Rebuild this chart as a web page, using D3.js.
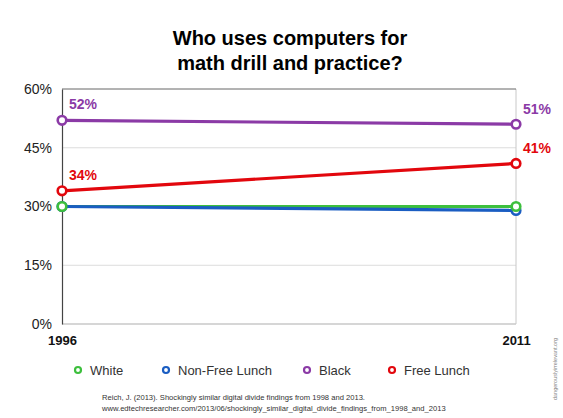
<!DOCTYPE html>
<html>
<head>
<meta charset="UTF-8">
<script src="https://d3js.org/d3.v7.min.js"></script>
<style>
  body { margin: 0; background: #fff; font-family: "Liberation Sans", Arial, sans-serif; }
</style>
</head>
<body>
<div id="chart"></div>
<script>
// data
var years = ["1996", "2011"];
var seriesNames = ["White", "Non-Free Lunch", "Black", "Free Lunch"];
var seriesColors = ["#3dbf3d", "#1a5dc2", "#8b3aa6", "#e2070d"];
var white = [30, 30];
var nonFreeLunch = [30, 29];
var black = [52, 51];
var freeLunch = [34, 41];
var yTicks = [0, 15, 30, 45, 60];
var labelled = [2, 3]; // which series get value labels

var allSeries = [white, nonFreeLunch, black, freeLunch];

var width = 563, height = 418;
var margin = { top: 89, left: 62, right: 47, bottom: 94 };

var svg = d3.select("#chart").append("svg")
    .attr("width", width)
    .attr("height", height);

var x = d3.scalePoint().domain(years).range([margin.left, width - margin.right]);
var y = d3.scaleLinear().domain([0, 60]).range([height - margin.bottom, margin.top]);

// title
svg.append("text")
    .attr("x", 290).attr("y", 45)
    .attr("text-anchor", "middle")
    .style("font-size", "20px").style("font-weight", "bold")
    .selectAll("tspan")
    .data(["Who uses computers for", "math drill and practice?"])
    .enter().append("tspan")
    .attr("x", 290)
    .attr("dy", function(d, i) { return i ? 25 : 0; })
    .text(function(d) { return d; });

// grid
svg.selectAll(".grid")
    .data([15, 30, 45])
    .enter().append("line")
    .attr("x1", margin.left).attr("x2", width - margin.right)
    .attr("y1", function(d) { return y(d); }).attr("y2", function(d) { return y(d); })
    .attr("stroke", "#dcdcdc").attr("stroke-width", 1);

// frame
svg.append("line")
    .attr("x1", width - margin.right).attr("x2", width - margin.right)
    .attr("y1", y(60)).attr("y2", y(0))
    .attr("stroke", "#c8c8c8");
svg.append("line")
    .attr("x1", margin.left).attr("x2", width - margin.right)
    .attr("y1", y(0)).attr("y2", y(0))
    .attr("stroke", "#c8c8c8").attr("stroke-width", 1.5);
svg.append("line")
    .attr("x1", margin.left).attr("x2", width - margin.right)
    .attr("y1", y(60)).attr("y2", y(60))
    .attr("stroke", "#666");

// y axis
var yAxis = svg.append("g")
    .attr("transform", "translate(" + margin.left + ",0)")
    .call(d3.axisLeft(y).tickValues(yTicks).tickSize(0).tickPadding(10)
        .tickFormat(function(d) { return d + "%"; }));
yAxis.select(".domain").attr("stroke", "#444").attr("stroke-width", 1.2);
yAxis.selectAll("text")
    .style("font-family", "Liberation Sans, Arial, sans-serif")
    .style("font-size", "14px").attr("fill", "#222");

// x axis
var xAxis = svg.append("g")
    .attr("transform", "translate(0," + y(0) + ")")
    .call(d3.axisBottom(x).tickSize(0).tickPadding(12));
xAxis.select(".domain").remove();
xAxis.selectAll("text")
    .style("font-family", "Liberation Sans, Arial, sans-serif")
    .style("font-size", "13px").style("font-weight", "bold").attr("fill", "#111");

// lines
var line = d3.line()
    .x(function(d, i) { return x(years[i]); })
    .y(function(d) { return y(d); });

allSeries.forEach(function(s, k) {
    svg.append("path")
        .datum(s)
        .attr("d", line)
        .attr("fill", "none")
        .attr("stroke", seriesColors[k])
        .attr("stroke-width", 3.2);
});
[1, 0, 2, 3].forEach(function(k) {
    svg.selectAll(".m" + k)
        .data(allSeries[k])
        .enter().append("circle")
        .attr("cx", function(d, i) { return x(years[i]); })
        .attr("cy", function(d) { return y(d); })
        .attr("r", 4.3)
        .attr("fill", "#fff")
        .attr("stroke", seriesColors[k])
        .attr("stroke-width", 2.6);
});

// value labels
labelled.forEach(function(k) {
    svg.selectAll(".v" + k)
        .data(allSeries[k])
        .enter().append("text")
        .attr("x", function(d, i) { return x(years[i]) + 7; })
        .attr("y", function(d, i) { return y(d) - (i ? 10 : 11); })
        .attr("fill", seriesColors[k])
        .style("font-size", "14px").style("font-weight", "bold")
        .text(function(d) { return d + "%"; });
});

// legend
var legendX = [78, 166, 307, 392];
var legend = svg.selectAll(".legend")
    .data(seriesNames)
    .enter().append("g")
    .attr("transform", function(d, i) { return "translate(" + legendX[i] + ",370)"; });
legend.append("circle")
    .attr("r", 3)
    .attr("fill", "#fff")
    .attr("stroke", function(d, i) { return seriesColors[i]; })
    .attr("stroke-width", 2.2);
legend.append("text")
    .attr("x", 12).attr("y", 5)
    .attr("fill", "#333")
    .style("font-size", "13px")
    .text(function(d) { return d; });

// source
svg.append("text")
    .attr("x", 102).attr("y", 400)
    .attr("fill", "#333")
    .style("font-size", "7.6px")
    .selectAll("tspan")
    .data(["Reich, J. (2013). Shockingly similar digital divide findings from 1998 and 2013.",
           "www.edtechresearcher.com/2013/06/shockingly_similar_digital_divide_findings_from_1998_and_2013"])
    .enter().append("tspan")
    .attr("x", 102)
    .attr("dy", function(d, i) { return i ? 11 : 0; })
    .text(function(d) { return d; });

svg.append("text")
    .attr("transform", "translate(557,369) rotate(-90)")
    .attr("text-anchor", "middle")
    .attr("fill", "#888")
    .style("font-size", "5.5px")
    .text("dangerouslyirrelevant.org");
</script>
</body>
</html>
